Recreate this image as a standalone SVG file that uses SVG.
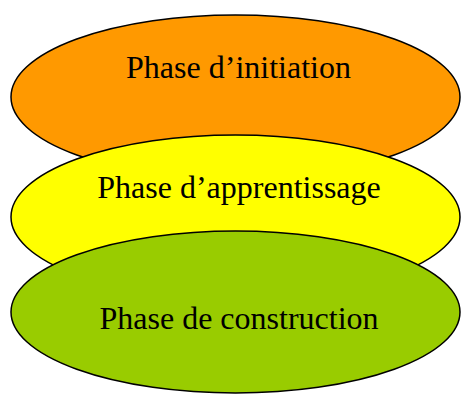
<svg xmlns="http://www.w3.org/2000/svg" width="461" height="394" viewBox="0 0 461 394">
<style>
.shape{stroke:#000;stroke-width:1.5}
.lbl{font-family:"Liberation Serif","Times New Roman",serif;font-size:32px;fill:#000;text-anchor:middle}
</style>
<rect width="461" height="394" fill="#fff"/>
<g id="connectors"></g>
<g id="node-initiation">
<ellipse class="shape" cx="235.5" cy="97" rx="224.5" ry="82" fill="#FF9900"/>
<text class="lbl" x="238.5" y="78">Phase d’initiation</text>
</g>
<g id="node-apprentissage">
<ellipse class="shape" cx="235.5" cy="217" rx="224.5" ry="82" fill="#FFFF00"/>
<text class="lbl" x="239" y="197.5">Phase d’apprentissage</text>
</g>
<g id="node-construction">
<ellipse class="shape" cx="235.5" cy="312" rx="224.5" ry="81" fill="#99CC00"/>
<text class="lbl" x="239" y="329">Phase de construction</text>
</g>
</svg>
